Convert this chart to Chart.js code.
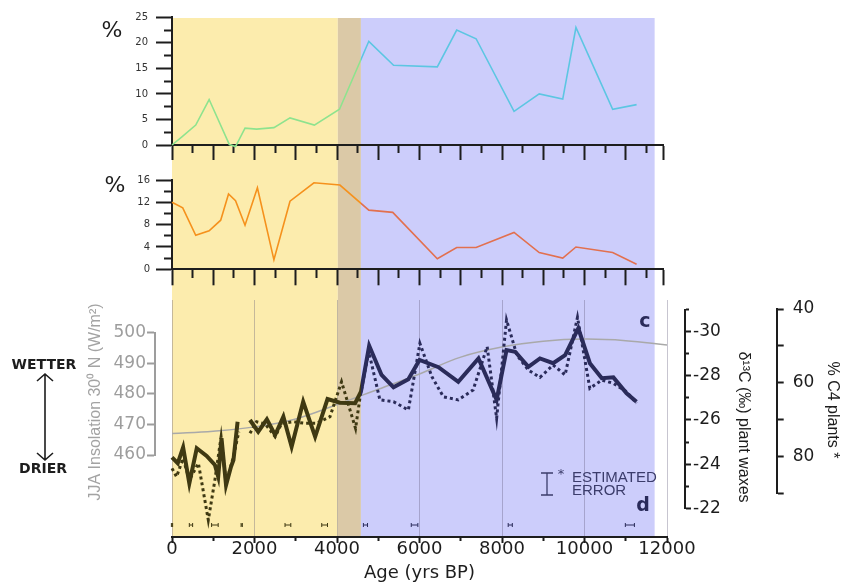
<!DOCTYPE html>
<html>
<head>
<meta charset="utf-8">
<script src="https://cdn.jsdelivr.net/npm/chart.js@4.4.1/dist/chart.umd.min.js"></script>
<style>
  html, body { margin: 0; padding: 0; background: #fff; }
  #chart { display: block; }
</style>
</head>
<body>
<canvas id="chart" width="846" height="583"></canvas>
<script>
// Ages are in yrs BP

// top panel (%)
const topAges = [0, 240, 575, 900, 1390, 1540, 1770, 2050, 2470, 2860, 3450, 4060, 4770, 5370, 6430, 6900, 7370, 8290, 8900, 9470, 9790, 10680, 11260];
const topPct = [0, 1.6, 3.9, 8.9, 0.1, -0.3, 3.3, 3.1, 3.4, 5.3, 3.9, 7.0, 20.3, 15.6, 15.3, 22.5, 20.8, 6.6, 10.0, 9.0, 23.0, 7.0, 7.9];

// middle panel (%)
const midAges = [0, 260, 575, 900, 1180, 1370, 1540, 1770, 2070, 2470, 2860, 3440, 4070, 4770, 5350, 6430, 6900, 7370, 8290, 8900, 9470, 9790, 10680, 11260];
const midPct = [12.0, 11.0, 6.1, 6.9, 8.8, 13.5, 12.3, 7.9, 14.6, 1.7, 12.2, 15.5, 15.1, 10.6, 10.2, 1.9, 3.9, 3.9, 6.6, 3.0, 2.0, 4.0, 3.0, 0.9];

// JJA insolation 30N (W/m2)
const insAges = [0, 1000, 2000, 3000, 4000, 5000, 6000, 7000, 8000, 9000, 10000, 11000, 12000];
const insol = [467, 467.8, 469.2, 471.8, 476.5, 481.5, 486.5, 492, 495.3, 497.2, 497.9, 497.4, 496];

// d13C plant waxes, solid record (null = gap)
const waxAges = [0, 140, 270, 420, 600, 840, 1040, 1120, 1200, 1310, 1430, 1490, 1590, 1740, 1890, 2090, 2300, 2500, 2700, 2900, 3180, 3470, 3770, 4070, 4440, 4580, 4780, 5080, 5370, 5730, 6000, 6460, 6940, 7430, 7870, 8110, 8320, 8640, 8920, 9240, 9530, 9850, 10130, 10420, 10700, 11020, 11260];
const waxD13 = [-24.31, -24.04, -24.76, -23.13, -24.72, -24.37, -23.96, -23.43, -25.17, -23.05, -23.88, -24.19, -25.92, null, -26.0, -25.47, -26.03, -25.32, -26.15, -24.79, -26.83, -25.24, -26.95, -26.78, -26.76, -27.28, -29.36, -28.04, -27.48, -27.84, -28.72, -28.39, -27.73, -28.79, -26.91, -29.17, -29.09, -28.41, -28.79, -28.57, -28.94, -30.15, -28.57, -27.89, -27.93, -27.21, -26.83];

// d13C, dotted record
const dotAges = [0, 110, 270, 420, 640, 880, 1040, 1190, 1310, 1490, 1620, 1750, 1890, 2050, 2260, 2500, 2660, 2940, 3220, 3510, 3830, 4110, 4450, 4560, 4770, 5040, 5370, 5730, 6010, 6300, 6580, 6940, 7300, 7640, 7870, 8110, 8360, 8640, 8920, 9240, 9530, 9830, 10130, 10420, 10700, 11020, 11260];
const dotD13 = [-23.81, -23.43, -24.26, -23.28, -24.04, -21.47, -23.28, -25.24, -23.13, -24.34, -25.47, null, -25.40, -25.92, -25.82, -25.24, -25.85, -25.92, -25.85, -25.85, -26.15, -27.73, -25.62, -27.05, -29.10, -26.91, -26.83, -26.45, -29.47, -27.96, -27.05, -26.91, -27.36, -29.32, -26.08, -30.53, -28.94, -28.26, -27.93, -28.49, -28.04, -30.65, -27.43, -27.81, -27.66, -27.28, -26.76];

// age control points and their errors
const ctrlAges = [0, 460, 1040, 1690, 2810, 3700, 4690, 5880, 8200, 11100];
const ctrlErr = [15, 40, 80, 15, 70, 70, 50, 80, 50, 110];

// shaded periods
const zoneStart = [0, 4020, 4580];
const zoneEnd = [4020, 4580, 11700];
const zoneFill = ['#fcecad', '#dbc9a7', '#cccdfb'];
const HUMID_END = 4580;

// tick values
const ageTicks = [0, 1000, 2000, 3000, 4000, 5000, 6000, 7000, 8000, 9000, 10000, 11000, 12000];
const panelTicks = [0, 500, 1000, 1500, 2000, 2500, 3000, 3500, 4000, 4500, 5000, 5500, 6000, 6500, 7000, 7500, 8000, 8500, 9000, 9500, 10000, 10500, 11000, 11500, 11900];

const ink = '#1d1d1d';
const navy = '#2a2b5a';
const olive = '#3f3912';

// where the stacked panels' axes sit on the page
const panelBoxes = {
  xTop: { left: 172, right: 663, top: 145, bottom: 166 },
  yTop: { left: 100, right: 172, top: 17.3, bottom: 145 },
  xMid: { left: 172, right: 663, top: 269.3, bottom: 290 },
  yMid: { left: 100, right: 172, top: 180, bottom: 269.3 },
  yIns: { left: 100, right: 155, top: 332.7, bottom: 455 },
  yC13: { left: 685, right: 760, top: 309.6, bottom: 508.3 },
  yC4: { left: 776.7, right: 846, top: 309, bottom: 493.3 }
};

const pairs = (xs, ys) => xs.map((x, i) => ({ x: x, y: ys[i] }));

function splitAt(age, before, after) {
  return (ctx) => {
    const chart = ctx.chart;
    const xs = chart.scales.x;
    if (!chart.chartArea || !xs) return before;
    const f = Math.min(Math.max(xs.getPixelForValue(age) / chart.width, 0), 1);
    const g = chart.ctx.createLinearGradient(0, 0, chart.width, 0);
    g.addColorStop(0, before);
    g.addColorStop(f, before);
    g.addColorStop(f, after);
    g.addColorStop(1, after);
    return g;
  };
}

// short ticks: near-axis first (bottom/right axes)
const shortNear = (isMinor, len) => (c) => isMinor(c.tick.value) ? [len, 100] : [];
// short ticks on left axes (the tick is stroked from the far end)
const shortFarDash = (isMinor, len, full) => (c) => isMinor(c.tick.value) ? [len, full] : [];
const shortFarOffset = (isMinor, len) => (c) => isMinor(c.tick.value) ? 2 * len : 0;

const panelMinor = v => v % 1000 !== 0 && v !== 11900;

const placePanels = {
  id: 'placePanels',
  afterLayout(chart) {
    for (const [id, box] of Object.entries(panelBoxes)) {
      const s = chart.scales[id];
      Object.assign(s, box);
      s.width = box.right - box.left;
      s.height = box.bottom - box.top;
      s.configure();
    }
  }
};

const shading = {
  id: 'shading',
  beforeDraw(chart) {
    const { ctx, chartArea } = chart;
    const xs = chart.scales.x;
    ctx.save();
    zoneStart.forEach((a, i) => {
      const x0 = xs.getPixelForValue(a);
      const x1 = xs.getPixelForValue(zoneEnd[i]);
      ctx.fillStyle = zoneFill[i];
      ctx.fillRect(x0, 18, x1 - x0, chartArea.bottom - 18);
    });
    ctx.restore();
  }
};

function rotText(ctx, text, x, y, angle, font, color) {
  ctx.save();
  ctx.translate(x, y);
  ctx.rotate(angle);
  ctx.font = font;
  ctx.fillStyle = color;
  ctx.textAlign = 'center';
  ctx.textBaseline = 'middle';
  ctx.fillText(text, 0, 0);
  ctx.restore();
}

const annotations = {
  id: 'annotations',
  afterDraw(chart) {
    const { ctx, chartArea } = chart;
    const xs = chart.scales.x;
    ctx.save();
    ctx.textAlign = 'center';
    ctx.textBaseline = 'middle';

    // percent labels of the upper panels
    ctx.fillStyle = ink;
    ctx.font = '22px "DejaVu Sans"';
    ctx.fillText('%', 112, 31);
    ctx.fillText('%', 115, 186);

    // wetter / drier
    ctx.font = 'bold 14px "DejaVu Sans"';
    ctx.fillText('WETTER', 44, 365);
    ctx.fillText('DRIER', 43, 469);
    ctx.strokeStyle = ink;
    ctx.lineWidth = 1.6;
    ctx.beginPath();
    ctx.moveTo(45, 374); ctx.lineTo(45, 460);
    ctx.moveTo(37, 381); ctx.lineTo(45, 374); ctx.lineTo(53, 381);
    ctx.moveTo(37, 453); ctx.lineTo(45, 460); ctx.lineTo(53, 453);
    ctx.stroke();

    // axis titles
    rotText(ctx, 'JJA Insolation 30⁰ N (W/m²)', 96, 402, -Math.PI / 2, '16px "Liberation Sans"', '#a3a3a3');
    rotText(ctx, 'δ¹³C (‰) plant waxes', 743, 427, Math.PI / 2, '16px "Liberation Sans"', ink);
    rotText(ctx, '% C4 plants *', 832, 410, Math.PI / 2, '16px "Liberation Sans"', ink);

    // panel letters
    ctx.fillStyle = navy;
    ctx.font = 'bold 19px "DejaVu Sans"';
    ctx.fillText('c', 645, 322);
    ctx.fillText('d', 643, 506);

    // estimated error key
    ctx.strokeStyle = '#3b3c6b';
    ctx.fillStyle = '#3b3c6b';
    ctx.lineWidth = 1.3;
    ctx.beginPath();
    ctx.moveTo(547, 473); ctx.lineTo(547, 495);
    ctx.moveTo(541, 473); ctx.lineTo(553, 473);
    ctx.moveTo(541, 495); ctx.lineTo(553, 495);
    ctx.stroke();
    ctx.font = '13px "DejaVu Sans"';
    ctx.fillText('*', 561, 475);
    ctx.textAlign = 'left';
    ctx.font = '15px "Liberation Sans"';
    ctx.fillText('ESTIMATED', 572, 478);
    ctx.fillText('ERROR', 572, 491);

    // age control error bars
    const y = chartArea.bottom - 12;
    ctx.lineWidth = 1;
    ctrlAges.forEach((a, i) => {
      const x0 = xs.getPixelForValue(a - ctrlErr[i]);
      const x1 = xs.getPixelForValue(a + ctrlErr[i]);
      ctx.strokeStyle = a < HUMID_END ? olive : navy;
      ctx.beginPath();
      ctx.moveTo(x0, y); ctx.lineTo(x1, y);
      ctx.moveTo(x0, y - 2); ctx.lineTo(x0, y + 2);
      ctx.moveTo(x1, y - 2); ctx.lineTo(x1, y + 2);
      ctx.stroke();
    });
    ctx.restore();
  }
};

Chart.defaults.font.family = '"DejaVu Sans", sans-serif';

new Chart(document.getElementById('chart'), {
  type: 'line',
  data: {
    datasets: [
      {
        label: 'd13C plant waxes',
        data: pairs(waxAges, waxD13),
        xAxisID: 'x', yAxisID: 'yC13',
        borderColor: splitAt(HUMID_END, olive, navy),
        borderWidth: 4, pointRadius: 0, clip: false
      },
      {
        label: 'd13C dotted',
        data: pairs(dotAges, dotD13),
        xAxisID: 'x', yAxisID: 'yC13',
        borderColor: splitAt(HUMID_END, olive, navy),
        borderWidth: 3, borderDash: [3, 3], borderCapStyle: 'butt',
        pointRadius: 0, clip: false
      },
      {
        label: 'JJA insolation',
        data: pairs(insAges, insol),
        xAxisID: 'x', yAxisID: 'yIns',
        borderColor: '#a9a9a9', borderWidth: 1.5, tension: 0.4,
        pointRadius: 0, clip: false
      },
      {
        label: 'top %',
        data: pairs(topAges, topPct),
        xAxisID: 'xTop', yAxisID: 'yTop',
        borderColor: splitAt(HUMID_END, '#8ee38e', '#5cc6e2'),
        borderWidth: 1.6, pointRadius: 0, clip: false
      },
      {
        label: 'middle %',
        data: pairs(midAges, midPct),
        xAxisID: 'xMid', yAxisID: 'yMid',
        borderColor: splitAt(HUMID_END, '#f5911c', '#e2704f'),
        borderWidth: 1.6, pointRadius: 0, clip: false
      }
    ]
  },
  options: {
    responsive: false,
    animation: false,
    devicePixelRatio: 1,
    layout: { padding: { top: 300, left: 0, right: 0, bottom: 0 } },
    plugins: { legend: { display: false }, tooltip: { enabled: false } },
    elements: { line: { tension: 0 } },
    scales: {
      x: {
        type: 'linear', axis: 'x', position: 'bottom', min: 0, max: 12000,
        afterFit: s => { s.height = 46; },
        afterBuildTicks: s => { s.ticks = ageTicks.map(v => ({ value: v })); },
        ticks: {
          autoSkip: false, maxRotation: 0, minRotation: 0, padding: -3, color: ink,
          font: { size: 18, lineHeight: 1 },
          callback: v => v % 2000 === 0 ? v : ''
        },
        grid: {
          color: c => c.tick && c.tick.value % 2000 === 0 ? 'rgba(95,90,120,0.35)' : 'transparent',
          lineWidth: 1, tickLength: 6, tickWidth: 2, tickColor: ink,
          tickBorderDash: shortNear(v => v % 2000 !== 0, 3)
        },
        border: { color: ink, width: 2 },
        title: { display: true, text: 'Age (yrs BP)', color: ink, font: { size: 18, lineHeight: 1 }, padding: 1 }
      },
      xTop: {
        type: 'linear', axis: 'x', position: 'bottom', min: 0, max: 11900,
        afterFit: s => { s.height = 0; },
        afterBuildTicks: s => { s.ticks = panelTicks.map(v => ({ value: v })); },
        ticks: { display: false, autoSkip: false },
        grid: {
          drawOnChartArea: false, tickLength: 15, tickWidth: 2, tickColor: ink,
          tickBorderDash: shortNear(panelMinor, 7)
        },
        border: { color: ink, width: 2 }
      },
      xMid: {
        type: 'linear', axis: 'x', position: 'bottom', min: 0, max: 11900,
        afterFit: s => { s.height = 0; },
        afterBuildTicks: s => { s.ticks = panelTicks.map(v => ({ value: v })); },
        ticks: { display: false, autoSkip: false },
        grid: {
          drawOnChartArea: false, tickLength: 16, tickWidth: 2, tickColor: ink,
          tickBorderDash: shortNear(panelMinor, 8)
        },
        border: { color: ink, width: 2 }
      },
      yTop: {
        type: 'linear', axis: 'y', position: 'left', min: 0, max: 25,
        afterFit: s => { s.width = 0; },
        ticks: {
          stepSize: 2.5, autoSkip: false, padding: 8, color: '#333',
          font: { size: 10 },
          callback: v => v % 5 === 0 ? v : ''
        },
        grid: {
          drawOnChartArea: false, tickLength: 16, tickWidth: 2, tickColor: ink,
          tickBorderDash: shortFarDash(v => v % 5 !== 0, 8, 16),
          tickBorderDashOffset: shortFarOffset(v => v % 5 !== 0, 8)
        },
        border: { color: ink, width: 2 }
      },
      yMid: {
        type: 'linear', axis: 'y', position: 'left', min: 0, max: 16,
        afterFit: s => { s.width = 0; },
        ticks: {
          stepSize: 2, autoSkip: false, padding: 6, color: '#333',
          font: { size: 10 },
          callback: v => v % 4 === 0 ? v : ''
        },
        grid: {
          drawOnChartArea: false, tickLength: 16, tickWidth: 2, tickColor: ink,
          tickBorderDash: shortFarDash(v => v % 4 !== 0, 8, 16),
          tickBorderDashOffset: shortFarOffset(v => v % 4 !== 0, 8)
        },
        border: { color: ink, width: 2 }
      },
      yIns: {
        type: 'linear', axis: 'y', position: 'left', min: 460, max: 500,
        afterFit: s => { s.width = 172; },
        ticks: { stepSize: 10, autoSkip: false, padding: 1, color: '#9d9d9d', font: { size: 17 } },
        grid: { drawOnChartArea: false, tickLength: 8, tickWidth: 2, tickColor: '#9d9d9d' },
        border: { color: '#9d9d9d', width: 2 }
      },
      yC13: {
        type: 'linear', axis: 'y', position: 'right', min: -31, max: -22, reverse: true,
        afterFit: s => { s.width = 179; },
        ticks: {
          stepSize: 1, autoSkip: false, padding: 2, color: ink,
          font: { size: 17 },
          callback: v => v % 2 === 0 ? v : ''
        },
        grid: {
          drawOnChartArea: false, tickLength: 6, tickWidth: 2, tickColor: ink,
          tickBorderDash: shortNear(v => v % 2 !== 0, 3)
        },
        border: { color: ink, width: 2 }
      },
      yC4: {
        type: 'linear', axis: 'y', position: 'right', min: 40, max: 90, reverse: true,
        afterFit: s => { s.width = 0; },
        ticks: {
          stepSize: 10, autoSkip: false, padding: 9, color: ink,
          font: { size: 17 },
          callback: v => v % 20 === 0 ? v : ''
        },
        grid: { drawOnChartArea: false, tickLength: 7, tickWidth: 2, tickColor: ink },
        border: { color: ink, width: 2 }
      }
    }
  },
  plugins: [placePanels, shading, annotations]
});
</script>
</body>
</html>
